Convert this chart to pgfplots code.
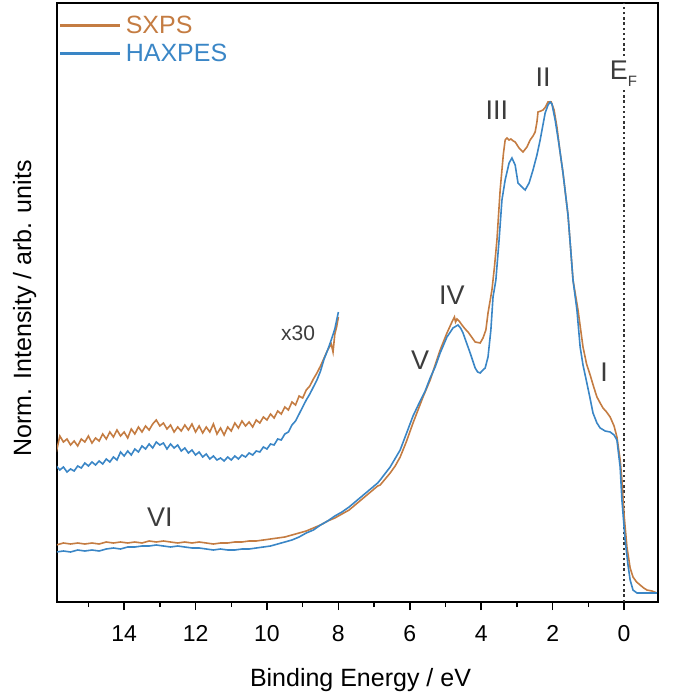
\documentclass[border=0pt]{standalone}
\usepackage{fontspec}
\setmainfont{Liberation Sans}
\usepackage{pgfplots}
\pgfplotsset{compat=1.18}
\usetikzlibrary{calc}
\definecolor{sxps}{RGB}{196,124,66}
\definecolor{haxpes}{RGB}{58,134,198}
\definecolor{lbl}{RGB}{60,60,60}
\begin{document}
\begin{tikzpicture}
\begin{axis}[
 scale only axis, width=601bp, height=599bp,
 x dir=reverse, xmin=-0.95, xmax=15.88, ymin=0, ymax=599,
 xtick={0,2,...,14}, minor xtick={-1,1,...,15},
 ytick=\empty,
 xtick pos=bottom, tick align=outside,
 major tick length=8bp, minor tick length=5bp,
 every tick/.style={black, line width=1.5bp},
 axis line style={line width=2bp},
 /pgf/number format/assume math mode=true,
 ticklabel style={font=\fontsize{23bp}{27bp}\selectfont},
 xticklabel style={yshift=-12bp},
 xlabel={Binding Energy / eV},
 ylabel={Norm. Intensity / arb. units},
 label style={font=\fontsize{25bp}{30bp}\selectfont},
 xlabel style={at={(axis description cs:0.505,0)}, anchor=base, yshift=-84bp},
 ylabel style={at={(axis description cs:-0.043,0.49)}, anchor=base},
 legend style={at={(axis description cs:0.005,0.982)}, anchor=north west, draw=none, fill=none,
   font=\fontsize{25bp}{30bp}\selectfont, row sep=5bp, inner xsep=0bp, inner ysep=0bp,
   cells={anchor=west}},
]
\coordinate (bl) at (axis description cs:0,0);
\coordinate (tr) at (axis description cs:1,1);
\draw[black!80, line width=2.4bp, dash pattern=on 2.4bp off 2.8bp] (axis cs:0,0) -- (axis cs:0,599);

\addplot[sxps, line width=1.6bp,
 legend image code/.code={\fill[sxps] (0bp,-0.85bp) rectangle (58bp,0.85bp); \path (62bp,0bp);}] coordinates {
(15.9,57) (15.7,59) (15.5,58) (15.3,59) (15.1,58) (14.9,59) (14.7,58) (14.5,60) (14.3,59) (14.1,60)
(13.9,59) (13.7,60) (13.5,59) (13.3,61) (13.1,60) (12.9,61) (12.7,60) (12.5,59) (12.3,60) (12.1,59)
(11.9,60) (11.7,59) (11.5,58) (11.3,59) (11.1,59) (10.9,60) (10.7,60) (10.5,61) (10.3,61) (10.1,62)
(9.9,63) (9.7,64) (9.5,65) (9.3,67) (9.1,69) (8.9,71) (8.7,74) (8.5,77) (8.3,81) (8.1,84)
(7.9,88) (7.7,92) (7.5,98) (7.3,104) (7.1,110) (6.9,116) (6.83,117) (6.69,123) (6.55,129) (6.41,136)
(6.27,145) (6.10,160) (5.91,179) (5.77,192) (5.63,205) (5.43,222) (5.29,237) (5.15,252) (4.96,269) (4.82,280)
(4.75,285) (4.72,280) (4.68,283) (4.62,281) (4.54,277) (4.45,273) (4.37,270) (4.25,264) (4.17,260) (4.03,259)
(3.95,264) (3.87,272) (3.81,289) (3.70,312) (3.63,335) (3.56,362) (3.47,412) (3.38,448) (3.33,462) (3.28,464)
(3.22,462) (3.17,463) (3.10,461) (3.05,460) (2.94,454) (2.83,450) (2.72,455) (2.63,462) (2.55,466) (2.49,470)
(2.44,480) (2.41,490) (2.33,491) (2.27,492) (2.20,495) (2.13,500) (2.04,500) (1.96,492) (1.88,475) (1.80,452)
(1.71,429) (1.64,408) (1.57,387) (1.50,355) (1.43,322) (1.29,292) (1.15,255) (1.05,238) (0.95,227) (0.85,215)
(0.76,205) (0.67,199) (0.59,194) (0.49,190) (0.39,185) (0.28,176) (0.20,165) (0.11,142) (0.06,122) (0.00,87)
(-0.08,55) (-0.17,34) (-0.25,25) (-0.35,20) (-0.45,17) (-0.55,14) (-0.64,12) (-0.78,11) (-0.92,9)
};
\addlegendentry{\textcolor{sxps}{SXPS}}

\addplot[haxpes, line width=1.6bp,
 legend image code/.code={\fill[haxpes] (0bp,-0.85bp) rectangle (58bp,0.85bp); \path (62bp,0bp);}] coordinates {
(15.9,50) (15.7,51) (15.5,50) (15.3,52) (15.1,51) (14.9,52) (14.7,51) (14.5,53) (14.3,54) (14.1,53)
(13.9,55) (13.7,55) (13.5,56) (13.3,56) (13.1,57) (12.9,56) (12.7,55) (12.5,56) (12.3,55) (12.1,54)
(11.9,54) (11.7,53) (11.5,52) (11.3,53) (11.1,52) (10.9,52) (10.7,53) (10.5,53) (10.3,54) (10.1,55)
(9.9,56) (9.7,58) (9.5,60) (9.3,62) (9.1,65) (8.9,69) (8.7,72) (8.5,77) (8.3,81) (8.1,86)
(7.9,90) (7.7,95) (7.5,101) (7.3,107) (7.1,113) (6.9,119) (6.83,122) (6.55,135) (6.27,152) (6.10,168)
(5.91,186) (5.71,201) (5.57,211) (5.43,224) (5.29,235) (5.15,249) (4.96,265) (4.79,274) (4.65,277) (4.58,274)
(4.51,269) (4.42,260) (4.31,249) (4.17,234) (4.10,230) (4.03,229) (3.95,232) (3.89,234) (3.81,245) (3.73,272)
(3.67,305) (3.59,322) (3.50,362) (3.42,402) (3.33,422) (3.22,439) (3.14,444) (3.05,437) (2.97,419) (2.89,416)
(2.77,412) (2.66,419) (2.55,432) (2.44,447) (2.35,462) (2.21,489) (2.13,497) (2.07,500) (2.02,498) (1.93,482)
(1.82,457) (1.71,429) (1.57,387) (1.50,355) (1.43,322) (1.32,292) (1.23,255) (1.15,237) (1.06,222) (0.96,205)
(0.87,189) (0.76,179) (0.67,174) (0.53,171) (0.39,170) (0.28,167) (0.20,162) (0.11,135) (0.06,102) (-0.03,62)
(-0.11,37) (-0.17,22) (-0.25,12) (-0.36,9) (-0.92,9)
};
\addlegendentry{\textcolor{haxpes}{HAXPES}}

\addplot[sxps, line width=1.6bp, forget plot] coordinates {
(15.9,150) (15.8,166) (15.7,160) (15.6,163) (15.5,157) (15.4,161) (15.3,156) (15.2,163) (15.1,160) (15.0,166)
(14.9,159) (14.8,164) (14.7,161) (14.6,168) (14.5,163) (14.4,170) (14.3,165) (14.2,172) (14.1,166) (14.0,170)
(13.9,164) (13.8,173) (13.7,168) (13.6,175) (13.5,170) (13.4,176) (13.3,172) (13.2,178) (13.1,182) (13.0,176)
(12.9,179) (12.8,173) (12.7,177) (12.6,170) (12.5,175) (12.4,171) (12.3,177) (12.2,172) (12.1,178) (12.0,170)
(11.9,176) (11.8,169) (11.7,175) (11.6,170) (11.5,178) (11.4,168) (11.3,174) (11.2,167) (11.1,175) (11.0,171)
(10.9,179) (10.8,174) (10.7,181) (10.6,176) (10.5,180) (10.4,175) (10.3,182) (10.2,179) (10.1,185) (10.0,182)
(9.9,188) (9.8,184) (9.7,191) (9.6,188) (9.5,195) (9.4,192) (9.3,200) (9.2,197) (9.1,206) (9.0,204)
(8.9,212) (8.8,216) (8.7,223) (8.6,229) (8.5,236) (8.4,244) (8.3,252) (8.2,258) (8.15,250) (8.1,268)
(8.05,275) (8.0,285)
};
\addplot[haxpes, line width=1.6bp, forget plot] coordinates {
(15.9,136) (15.8,132) (15.7,135) (15.6,130) (15.5,133) (15.4,131) (15.3,136) (15.2,134) (15.1,139) (15.0,136)
(14.9,140) (14.8,137) (14.7,141) (14.6,138) (14.5,143) (14.4,140) (14.3,145) (14.2,142) (14.1,150) (14.0,146)
(13.9,151) (13.8,147) (13.7,153) (13.6,150) (13.5,156) (13.4,153) (13.3,158) (13.2,154) (13.1,160) (13.0,157)
(12.9,159) (12.8,153) (12.7,158) (12.6,154) (12.5,157) (12.4,151) (12.3,154) (12.2,149) (12.1,152) (12.0,147)
(11.9,150) (11.8,145) (11.7,148) (11.6,143) (11.5,146) (11.4,142) (11.3,144) (11.2,141) (11.1,145) (11.0,142)
(10.9,146) (10.8,143) (10.7,147) (10.6,145) (10.5,149) (10.4,147) (10.3,151) (10.2,150) (10.1,155) (10.0,153)
(9.9,158) (9.8,157) (9.7,163) (9.6,162) (9.5,168) (9.4,170) (9.3,177) (9.2,181) (9.1,188) (9.0,195)
(8.9,202) (8.8,208) (8.7,215) (8.6,222) (8.5,231) (8.4,243) (8.3,252) (8.2,262) (8.1,273) (8.0,290)
};

\node[lbl, font=\fontsize{27bp}{32bp}\selectfont] at (axis cs:3.56,492) {III};
\node[lbl, font=\fontsize{27bp}{32bp}\selectfont] at (axis cs:2.27,525) {II};
\node[lbl, font=\fontsize{27bp}{32bp}\selectfont] at (axis cs:4.82,307) {IV};
\node[lbl, font=\fontsize{27bp}{32bp}\selectfont] at (axis cs:5.71,242) {V};
\node[lbl, font=\fontsize{27bp}{32bp}\selectfont] at (axis cs:0.56,230) {I};
\node[lbl, font=\fontsize{27bp}{32bp}\selectfont] at (axis cs:13.0,85) {VI};
\node[lbl, font=\fontsize{21bp}{25bp}\selectfont] at (axis cs:9.13,269) {x30};
\node[lbl, anchor=base west, inner xsep=0bp, inner ysep=3bp, fill=white, font=\fontsize{27bp}{32bp}\selectfont]
  at (axis cs:0.40,522) {E\raisebox{-7bp}{\fontsize{15bp}{18bp}\selectfont F}};
\end{axis}
\pgfresetboundingbox
\path[use as bounding box] ($(bl)+(-57bp,-94bp)$) rectangle ($(tr)+(20bp,3bp)$);
\end{tikzpicture}
\end{document}
